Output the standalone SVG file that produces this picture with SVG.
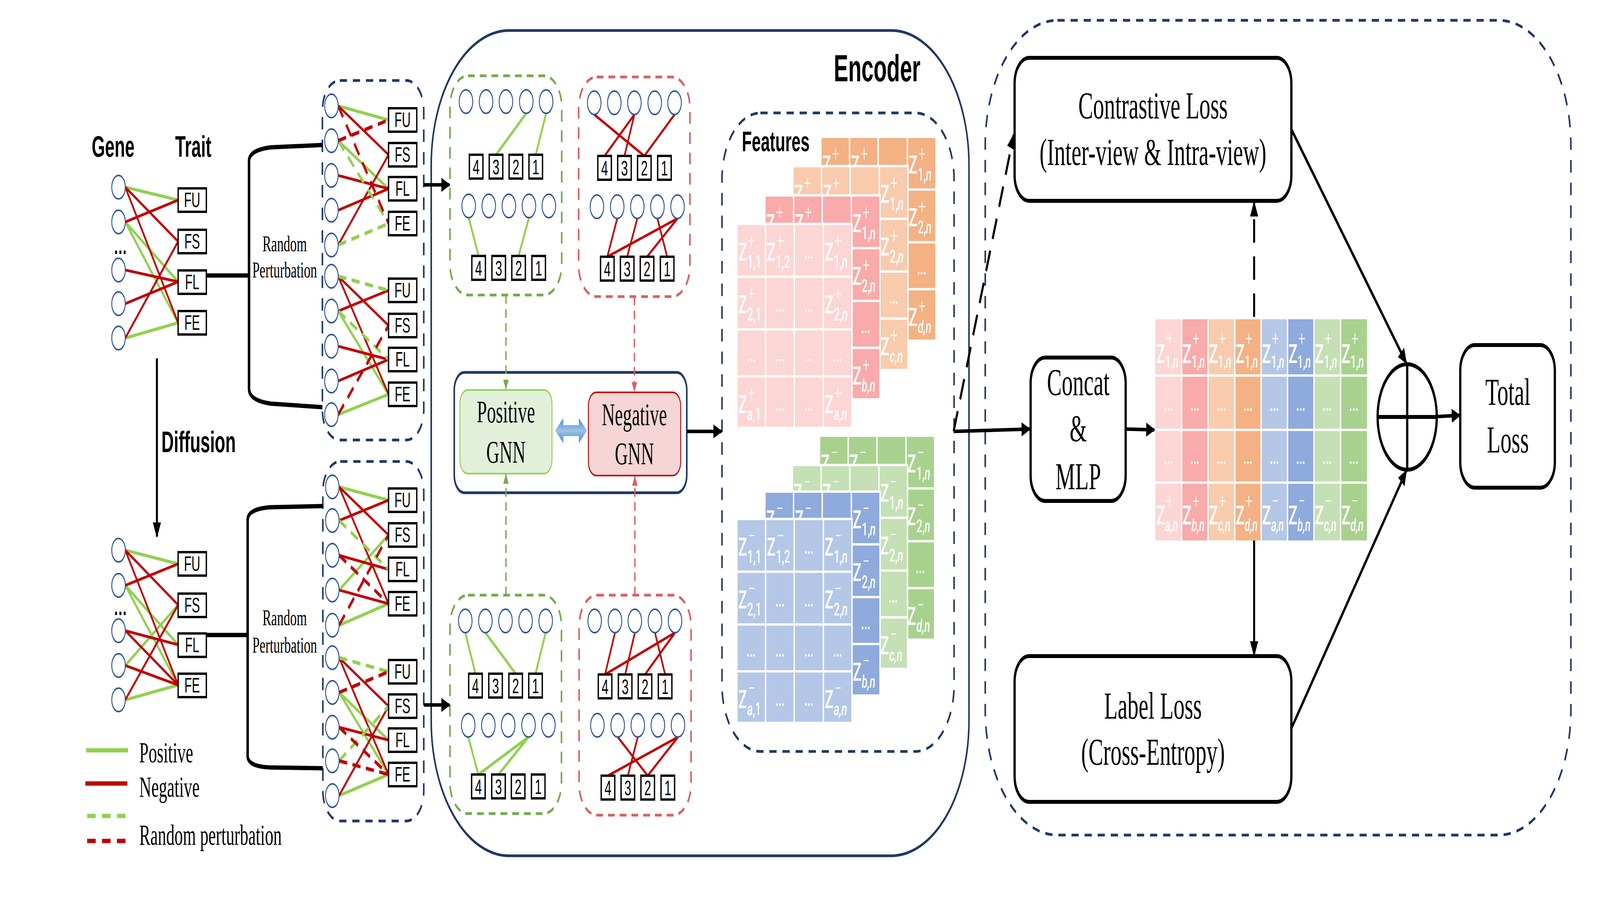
<svg xmlns="http://www.w3.org/2000/svg" xmlns:xlink="http://www.w3.org/1999/xlink" width="7087" height="2362" viewBox="0 0 7087 2362" preserveAspectRatio="none">
<style>
svg{width:100vw;height:100vh;display:block}
.nv{fill:none;stroke:#1F3864;stroke-width:7}
.nvd{fill:none;stroke:#1F3864;stroke-width:7;stroke-dasharray:32 26}
.gdb{fill:none;stroke:#70AD47;stroke-width:7;stroke-dasharray:30 22}
.rdb{fill:none;stroke:#DB5F5F;stroke-width:7;stroke-dasharray:30 22}
.c{fill:#fff;stroke:#2F5597;stroke-width:4}
.pg{stroke:#92D050;stroke-width:8;fill:none}
.pr{stroke:#C00000;stroke-width:7;fill:none}
.pgd{stroke:#92D050;stroke-width:9;stroke-dasharray:36 24;fill:none}
.prd{stroke:#C00000;stroke-width:9;stroke-dasharray:36 24;fill:none}
.bx{fill:#fff;stroke:#000;stroke-width:6}
.tx{font-family:"Liberation Sans Narrow","Liberation Sans",Arial,sans-serif;font-size:54px;text-anchor:middle}
.num{font-family:"Liberation Sans",Arial,sans-serif;font-size:54px;text-anchor:middle}
.bold{font-family:"Liberation Sans",Arial,sans-serif;font-weight:bold}
.serif{font-family:"Liberation Serif","Times New Roman",serif}
.mid{text-anchor:middle}
.blk{fill:none;stroke:#000;stroke-width:10}
.box{fill:#fff;stroke:#000;stroke-width:10}
.zl{font-family:Roboto,"Liberation Sans",sans-serif;font-size:64px;font-weight:500;fill:#fff}
.zc{font-family:Roboto,"Liberation Sans",sans-serif;font-size:66px;font-weight:500;fill:#fff}
.sp{font-size:54px;font-weight:300}
.sb{font-size:46px}
.sc{font-size:44px}
.it{font-style:italic}
.dots{font-family:Roboto,"Liberation Sans",sans-serif;font-size:64px;fill:#fff;text-anchor:middle}
.wg{stroke:#fff;stroke-width:6;fill:none}
.arr{stroke:#000;stroke-width:9;fill:none}
</style>
<defs>
<marker id="ah" viewBox="0 0 40 36" refX="36" refY="18" markerWidth="40" markerHeight="36" markerUnits="userSpaceOnUse" orient="auto"><path d="M0,0 L40,18 L0,36 z" fill="#000"/></marker>
<marker id="ahg" viewBox="0 0 26 24" refX="24" refY="12" markerWidth="26" markerHeight="24" markerUnits="userSpaceOnUse" orient="auto"><path d="M0,0 L26,12 L0,24 z" fill="#70AD47"/></marker>
<marker id="ahr" viewBox="0 0 26 24" refX="24" refY="12" markerWidth="26" markerHeight="24" markerUnits="userSpaceOnUse" orient="auto"><path d="M0,0 L26,12 L0,24 z" fill="#DB5F5F"/></marker>
<linearGradient id="bl" x1="0" y1="0" x2="0" y2="1"><stop offset="0" stop-color="#4A86CF"/><stop offset="0.5" stop-color="#9DC3E6"/><stop offset="1" stop-color="#4A86CF"/></linearGradient>
<g id="grid"><path class="wg" d="M127 0V522M254 0V522M383 0V522M0 135H510M0 270H510M0 390H510"/><rect class="wg" x="0" y="0" width="510" height="522"/></g>
<clipPath id="cp4"><rect x="3636" y="300" width="260" height="125"/></clipPath>
<clipPath id="cp3"><rect x="3512" y="375" width="260" height="125"/></clipPath>
<clipPath id="cp2"><rect x="3388" y="450" width="260" height="123"/></clipPath>
<clipPath id="cn4"><rect x="3630" y="1065" width="260" height="125"/></clipPath>
<clipPath id="cn3"><rect x="3510" y="1140" width="260" height="118"/></clipPath>
<clipPath id="cn2"><rect x="3388" y="1208" width="260" height="120"/></clipPath>
</defs>
<rect width="7087" height="2362" fill="#fff"/>

<g id="labels-gene-trait">
<text class="bold" x="406" y="401" font-size="76">Gene</text>
<text class="bold" x="776" y="401" font-size="76">Trait</text>
<text class="bold" x="715" y="1157" font-size="76">Diffusion</text>
</g>

<g id="graph-original">
<path class="pg" d="M555 479L789 512M555 568L789 721M555 568L789 826M555 865L789 826"/>
<path class="pr" d="M555 479L789 618M555 479L789 826M555 568L789 512M555 691L789 721M555 777L789 721M555 865L789 618"/>
<circle class="c" cx="525" cy="479" r="30"/><circle class="c" cx="525" cy="568" r="30"/><circle class="c" cx="525" cy="691" r="30"/><circle class="c" cx="525" cy="777" r="30"/><circle class="c" cx="525" cy="865" r="30"/>
<text class="bold mid" x="533" y="650" font-size="60">…</text>
<rect class="bx" x="789" y="482" width="125" height="60"/><rect class="bx" x="789" y="588" width="125" height="60"/><rect class="bx" x="789" y="692" width="125" height="60"/><rect class="bx" x="789" y="796" width="125" height="60"/>
<text class="tx" x="851" y="530">FU</text><text class="tx" x="851" y="636">FS</text><text class="tx" x="851" y="740">FL</text><text class="tx" x="851" y="844">FE</text>
</g>

<g id="graph-diffused">
<path class="pg" d="M555 1408L789 1443M555 1498L789 1650M555 1498L789 1753M555 1703L789 1548M555 1791L789 1753"/>
<path class="pr" d="M555 1408L789 1548M555 1408L789 1753M555 1498L789 1443M555 1614L789 1650M555 1614L789 1753M555 1703L789 1753M555 1791L789 1548"/>
<circle class="c" cx="525" cy="1408" r="30"/><circle class="c" cx="525" cy="1498" r="30"/><circle class="c" cx="525" cy="1614" r="30"/><circle class="c" cx="525" cy="1703" r="30"/><circle class="c" cx="525" cy="1791" r="30"/>
<text class="bold mid" x="533" y="1574" font-size="60">…</text>
<rect class="bx" x="789" y="1413" width="125" height="60"/><rect class="bx" x="789" y="1519" width="125" height="60"/><rect class="bx" x="789" y="1621" width="125" height="60"/><rect class="bx" x="789" y="1724" width="125" height="60"/>
<text class="tx" x="851" y="1461">FU</text><text class="tx" x="851" y="1567">FS</text><text class="tx" x="851" y="1669">FL</text><text class="tx" x="851" y="1772">FE</text>
</g>

<g id="legend">
<line x1="382" y1="1920" x2="567" y2="1920" stroke="#92D050" stroke-width="11"/>
<line x1="378" y1="2005" x2="564" y2="2005" stroke="#C00000" stroke-width="11"/>
<line x1="386" y1="2088" x2="560" y2="2088" stroke="#92D050" stroke-width="11" stroke-dasharray="38 28"/>
<line x1="386" y1="2152" x2="560" y2="2152" stroke="#C00000" stroke-width="11" stroke-dasharray="38 28"/>
<text class="serif" x="617" y="1951" font-size="74">Positive</text>
<text class="serif" x="617" y="2039" font-size="74">Negative</text>
<text class="serif" x="617" y="2162" font-size="74">Random perturbation</text>
</g>

<g id="perturb-text">
<text class="serif mid" x="1261" y="643" font-size="58">Random</text>
<text class="serif mid" x="1261" y="710" font-size="58">Perturbation</text>
<text class="serif mid" x="1261" y="1600" font-size="58">Random</text>
<text class="serif mid" x="1261" y="1670" font-size="58">Perturbation</text>
</g>

<g id="perturbed-views-1">
<rect class="nvd" x="1428" y="206" width="449" height="920" rx="77"/>
<path class="pg" d="M1498 271L1721 307M1498 360L1721 483M1498 796L1721 1009M1498 1061L1721 1009"/>
<path class="pr" d="M1498 271L1721 396M1498 449L1721 483M1498 538L1721 483M1498 627L1721 396M1498 707L1721 833M1498 707L1721 1009M1498 796L1721 743M1498 886L1721 920M1498 975L1721 920"/>
<path class="pgd" d="M1498 360L1721 572M1498 627L1721 572M1498 707L1721 743M1498 796L1721 920"/>
<path class="prd" d="M1498 360L1721 307M1498 271L1721 572M1498 1061L1721 833"/>
<circle class="c" cx="1468" cy="271" r="30"/><circle class="c" cx="1468" cy="360" r="30"/><circle class="c" cx="1468" cy="449" r="30"/><circle class="c" cx="1468" cy="538" r="30"/><circle class="c" cx="1468" cy="627" r="30"/>
<circle class="c" cx="1468" cy="707" r="30"/><circle class="c" cx="1468" cy="796" r="30"/><circle class="c" cx="1468" cy="886" r="30"/><circle class="c" cx="1468" cy="975" r="30"/><circle class="c" cx="1468" cy="1061" r="30"/>
<rect class="bx" x="1721" y="277" width="125" height="60"/><rect class="bx" x="1721" y="366" width="125" height="60"/><rect class="bx" x="1721" y="453" width="125" height="60"/><rect class="bx" x="1721" y="542" width="125" height="60"/>
<rect class="bx" x="1721" y="713" width="125" height="60"/><rect class="bx" x="1721" y="803" width="125" height="60"/><rect class="bx" x="1721" y="890" width="125" height="60"/><rect class="bx" x="1721" y="979" width="125" height="60"/>
<text class="tx" x="1783" y="325">FU</text><text class="tx" x="1783" y="414">FS</text><text class="tx" x="1783" y="501">FL</text><text class="tx" x="1783" y="590">FE</text>
<text class="tx" x="1783" y="761">FU</text><text class="tx" x="1783" y="851">FS</text><text class="tx" x="1783" y="938">FL</text><text class="tx" x="1783" y="1027">FE</text>
</g>

<g id="perturbed-views-2">
<rect class="nvd" x="1430" y="1181" width="447" height="920" rx="77"/>
<path class="pg" d="M1502 1246L1721 1280M1502 1510L1721 1369M1502 1600L1721 1545M1502 1772L1721 1894M1502 1772L1721 1982M1502 2036L1721 1982"/>
<path class="pr" d="M1502 1246L1721 1369M1502 1246L1721 1545M1502 1332L1721 1280M1502 1421L1721 1457M1502 1510L1721 1545M1502 1683L1721 1807M1502 1683L1721 1982M1502 1861L1721 1894M1502 2036L1721 1807"/>
<path class="pgd" d="M1502 1332L1721 1457M1502 1683L1721 1719M1502 1947L1721 1807"/>
<path class="prd" d="M1502 1421L1721 1545M1502 1600L1721 1369M1502 1772L1721 1719M1502 1861L1721 1982M1502 1947L1721 1982"/>
<circle class="c" cx="1472" cy="1246" r="30"/><circle class="c" cx="1472" cy="1332" r="30"/><circle class="c" cx="1472" cy="1421" r="30"/><circle class="c" cx="1472" cy="1510" r="30"/><circle class="c" cx="1472" cy="1600" r="30"/>
<circle class="c" cx="1472" cy="1683" r="30"/><circle class="c" cx="1472" cy="1772" r="30"/><circle class="c" cx="1472" cy="1861" r="30"/><circle class="c" cx="1472" cy="1947" r="30"/><circle class="c" cx="1472" cy="2036" r="30"/>
<rect class="bx" x="1721" y="1250" width="125" height="60"/><rect class="bx" x="1721" y="1339" width="125" height="60"/><rect class="bx" x="1721" y="1427" width="125" height="60"/><rect class="bx" x="1721" y="1515" width="125" height="60"/>
<rect class="bx" x="1721" y="1689" width="125" height="60"/><rect class="bx" x="1721" y="1777" width="125" height="60"/><rect class="bx" x="1721" y="1864" width="125" height="60"/><rect class="bx" x="1721" y="1952" width="125" height="60"/>
<text class="tx" x="1783" y="1298">FU</text><text class="tx" x="1783" y="1387">FS</text><text class="tx" x="1783" y="1475">FL</text><text class="tx" x="1783" y="1563">FE</text>
<text class="tx" x="1783" y="1737">FU</text><text class="tx" x="1783" y="1825">FS</text><text class="tx" x="1783" y="1912">FL</text><text class="tx" x="1783" y="2000">FE</text>
</g>

<g id="encoder">
<rect class="nv" x="1910" y="78" width="2382" height="2112" rx="345"/>
<text class="bold" x="3693" y="208" font-size="96">Encoder</text>
</g>

<g id="pos-view-1">
<rect class="gdb" x="1993" y="194" width="495" height="561" rx="80"/>
<path class="pg" d="M2331 290L2197 396M2419 290L2373 396M2076 557L2120 655M2343 557L2297 655"/>
<circle class="c" cx="2064" cy="260" r="30"/><circle class="c" cx="2153" cy="260" r="30"/><circle class="c" cx="2241" cy="260" r="30"/><circle class="c" cx="2331" cy="260" r="30"/><circle class="c" cx="2419" cy="260" r="30"/>
<rect class="bx" x="2079" y="396" width="60" height="61"/><rect class="bx" x="2167" y="396" width="60" height="61"/><rect class="bx" x="2255" y="396" width="60" height="61"/><rect class="bx" x="2343" y="396" width="60" height="61"/>
<text class="num" x="2109" y="446">4</text><text class="num" x="2197" y="446">3</text><text class="num" x="2285" y="446">2</text><text class="num" x="2373" y="446">1</text>
<circle class="c" cx="2076" cy="527" r="30"/><circle class="c" cx="2165" cy="527" r="30"/><circle class="c" cx="2254" cy="527" r="30"/><circle class="c" cx="2343" cy="527" r="30"/><circle class="c" cx="2431" cy="527" r="30"/>
<rect class="bx" x="2090" y="655" width="60" height="61"/><rect class="bx" x="2179" y="655" width="60" height="61"/><rect class="bx" x="2267" y="655" width="60" height="61"/><rect class="bx" x="2356" y="655" width="60" height="61"/>
<text class="num" x="2120" y="705">4</text><text class="num" x="2209" y="705">3</text><text class="num" x="2297" y="705">2</text><text class="num" x="2386" y="705">1</text>
</g>

<g id="neg-view-1">
<rect class="rdb" x="2563" y="197" width="493" height="562" rx="80"/>
<path class="pr" d="M2632 293L2854 399M2810 293L2678 399M2810 293L2766 399M2988 293L2854 399M2734 559L2690 657M2823 559L2778 657M3001 559L2690 657M3001 559L2866 657M2912 559L2955 657"/>
<circle class="c" cx="2632" cy="263" r="30"/><circle class="c" cx="2721" cy="263" r="30"/><circle class="c" cx="2810" cy="263" r="30"/><circle class="c" cx="2900" cy="263" r="30"/><circle class="c" cx="2988" cy="263" r="30"/>
<rect class="bx" x="2648" y="399" width="60" height="61"/><rect class="bx" x="2736" y="399" width="60" height="61"/><rect class="bx" x="2824" y="399" width="60" height="61"/><rect class="bx" x="2913" y="399" width="60" height="61"/>
<text class="num" x="2678" y="449">4</text><text class="num" x="2766" y="449">3</text><text class="num" x="2854" y="449">2</text><text class="num" x="2943" y="449">1</text>
<circle class="c" cx="2644" cy="529" r="30"/><circle class="c" cx="2734" cy="529" r="30"/><circle class="c" cx="2823" cy="529" r="30"/><circle class="c" cx="2912" cy="529" r="30"/><circle class="c" cx="3001" cy="529" r="30"/>
<rect class="bx" x="2660" y="657" width="60" height="61"/><rect class="bx" x="2748" y="657" width="60" height="61"/><rect class="bx" x="2836" y="657" width="60" height="61"/><rect class="bx" x="2925" y="657" width="60" height="61"/>
<text class="num" x="2690" y="707">4</text><text class="num" x="2778" y="707">3</text><text class="num" x="2866" y="707">2</text><text class="num" x="2955" y="707">1</text>
</g>

<g id="pos-view-2">
<rect class="gdb" x="1993" y="1523" width="494" height="559" rx="80"/>
<path class="pg" d="M2061 1619L2106 1724M2150 1619L2284 1724M2417 1619L2372 1724M2074 1886L2119 1982M2341 1886L2119 1982M2341 1886L2208 1982"/>
<circle class="c" cx="2061" cy="1589" r="30"/><circle class="c" cx="2150" cy="1589" r="30"/><circle class="c" cx="2239" cy="1589" r="30"/><circle class="c" cx="2328" cy="1589" r="30"/><circle class="c" cx="2417" cy="1589" r="30"/>
<rect class="bx" x="2076" y="1724" width="60" height="61"/><rect class="bx" x="2165" y="1724" width="60" height="61"/><rect class="bx" x="2254" y="1724" width="60" height="61"/><rect class="bx" x="2342" y="1724" width="60" height="61"/>
<text class="num" x="2106" y="1774">4</text><text class="num" x="2195" y="1774">3</text><text class="num" x="2284" y="1774">2</text><text class="num" x="2372" y="1774">1</text>
<circle class="c" cx="2074" cy="1856" r="30"/><circle class="c" cx="2163" cy="1856" r="30"/><circle class="c" cx="2251" cy="1856" r="30"/><circle class="c" cx="2341" cy="1856" r="30"/><circle class="c" cx="2429" cy="1856" r="30"/>
<rect class="bx" x="2089" y="1982" width="60" height="61"/><rect class="bx" x="2178" y="1982" width="60" height="61"/><rect class="bx" x="2265" y="1982" width="60" height="61"/><rect class="bx" x="2354" y="1982" width="60" height="61"/>
<text class="num" x="2119" y="2032">4</text><text class="num" x="2208" y="2032">3</text><text class="num" x="2295" y="2032">2</text><text class="num" x="2384" y="2032">1</text>
</g>

<g id="neg-view-2">
<rect class="rdb" x="2565" y="1523" width="496" height="563" rx="80"/>
<path class="pr" d="M2724 1619L2680 1726M2812 1619L2769 1726M2990 1619L2680 1726M2990 1619L2857 1726M2901 1619L2946 1726M2736 1886L2869 1985M2825 1886L2781 1985M3003 1886L2693 1985M3003 1886L2869 1985"/>
<circle class="c" cx="2634" cy="1589" r="30"/><circle class="c" cx="2724" cy="1589" r="30"/><circle class="c" cx="2812" cy="1589" r="30"/><circle class="c" cx="2901" cy="1589" r="30"/><circle class="c" cx="2990" cy="1589" r="30"/>
<rect class="bx" x="2650" y="1726" width="60" height="61"/><rect class="bx" x="2739" y="1726" width="60" height="61"/><rect class="bx" x="2827" y="1726" width="60" height="61"/><rect class="bx" x="2916" y="1726" width="60" height="61"/>
<text class="num" x="2680" y="1776">4</text><text class="num" x="2769" y="1776">3</text><text class="num" x="2857" y="1776">2</text><text class="num" x="2946" y="1776">1</text>
<circle class="c" cx="2646" cy="1856" r="30"/><circle class="c" cx="2736" cy="1856" r="30"/><circle class="c" cx="2825" cy="1856" r="30"/><circle class="c" cx="2914" cy="1856" r="30"/><circle class="c" cx="3003" cy="1856" r="30"/>
<rect class="bx" x="2663" y="1985" width="60" height="61"/><rect class="bx" x="2751" y="1985" width="60" height="61"/><rect class="bx" x="2839" y="1985" width="60" height="61"/><rect class="bx" x="2928" y="1985" width="60" height="61"/>
<text class="num" x="2693" y="2035">4</text><text class="num" x="2781" y="2035">3</text><text class="num" x="2869" y="2035">2</text><text class="num" x="2958" y="2035">1</text>
</g>

<g id="gnn">
<rect class="nv" x="2012" y="953" width="1030" height="308" rx="45"/>
<rect x="2037" y="998" width="408" height="214" rx="35" fill="#E2F0D9" stroke="#92D050" stroke-width="4"/>
<rect x="2606" y="1004" width="409" height="213" rx="35" fill="#F5D5D5" stroke="#C00000" stroke-width="4"/>
<text class="serif mid" x="2241" y="1081" font-size="80">Positive</text>
<text class="serif mid" x="2241" y="1184" font-size="80">GNN</text>
<text class="serif mid" x="2810" y="1088" font-size="80">Negative</text>
<text class="serif mid" x="2810" y="1188" font-size="80">GNN</text>
</g>

<g id="features">
<rect class="nvd" x="3198" y="289" width="1028" height="1634" rx="170"/>
<text class="bold" x="3286" y="387" font-size="72">Features</text>

<rect x="3636" y="350" width="510" height="522" fill="#F4B183"/><use xlink:href="#grid" x="3636" y="350"/>
<g clip-path="url(#cp4)">
<text class="zl" transform="translate(3636,350)" x="6" y="94">Z<tspan class="sp" x="50" y="62">+</tspan></text>
<text class="zl" transform="translate(3763,350)" x="6" y="94">Z<tspan class="sp" x="50" y="62">+</tspan></text>
</g>
<text class="zl" transform="translate(4019,350)" x="6" y="94">Z<tspan class="sp" x="50" y="62">+</tspan><tspan class="sb" x="46" y="112">1,<tspan class="it">n</tspan></tspan></text>
<text class="zl" transform="translate(4019,485)" x="6" y="94">Z<tspan class="sp" x="50" y="62">+</tspan><tspan class="sb" x="46" y="112">2,<tspan class="it">n</tspan></tspan></text>
<text class="dots" x="4082" y="702">…</text>
<text class="zl" transform="translate(4019,740)" x="6" y="94">Z<tspan class="sp" x="50" y="62">+</tspan><tspan class="sb it" x="46" y="112">d,n</tspan></text>

<rect x="3512" y="425" width="510" height="522" fill="#F8CBAD"/><use xlink:href="#grid" x="3512" y="425"/>
<g clip-path="url(#cp3)">
<text class="zl" transform="translate(3512,425)" x="6" y="94">Z<tspan class="sp" x="50" y="62">+</tspan></text>
<text class="zl" transform="translate(3639,425)" x="6" y="94">Z<tspan class="sp" x="50" y="62">+</tspan></text>
</g>
<text class="zl" transform="translate(3895,425)" x="6" y="94">Z<tspan class="sp" x="50" y="62">+</tspan><tspan class="sb" x="46" y="112">1,<tspan class="it">n</tspan></tspan></text>
<text class="zl" transform="translate(3895,560)" x="6" y="94">Z<tspan class="sp" x="50" y="62">+</tspan><tspan class="sb" x="46" y="112">2,<tspan class="it">n</tspan></tspan></text>
<text class="dots" x="3958" y="777">…</text>
<text class="zl" transform="translate(3895,815)" x="6" y="94">Z<tspan class="sp" x="50" y="62">+</tspan><tspan class="sb it" x="46" y="112">c,n</tspan></text>

<rect x="3388" y="500" width="510" height="522" fill="#F9AAAA"/><use xlink:href="#grid" x="3388" y="500"/>
<g clip-path="url(#cp2)">
<text class="zl" transform="translate(3388,500)" x="6" y="94">Z<tspan class="sp" x="50" y="62">+</tspan></text>
<text class="zl" transform="translate(3515,500)" x="6" y="94">Z<tspan class="sp" x="50" y="62">+</tspan></text>
</g>
<text class="zl" transform="translate(3771,500)" x="6" y="94">Z<tspan class="sp" x="50" y="62">+</tspan><tspan class="sb" x="46" y="112">1,<tspan class="it">n</tspan></tspan></text>
<text class="zl" transform="translate(3771,635)" x="6" y="94">Z<tspan class="sp" x="50" y="62">+</tspan><tspan class="sb" x="46" y="112">2,<tspan class="it">n</tspan></tspan></text>
<text class="dots" x="3834" y="852">…</text>
<text class="zl" transform="translate(3771,890)" x="6" y="94">Z<tspan class="sp" x="50" y="62">+</tspan><tspan class="sb it" x="46" y="112">b,n</tspan></text>

<rect x="3264" y="573" width="510" height="522" fill="#FCD5D5"/><use xlink:href="#grid" x="3264" y="573"/>
<text class="zl" transform="translate(3264,573)" x="6" y="94">Z<tspan class="sp" x="50" y="62">+</tspan><tspan class="sb" x="46" y="112">1,1</tspan></text>
<text class="zl" transform="translate(3391,573)" x="6" y="94">Z<tspan class="sp" x="50" y="62">+</tspan><tspan class="sb" x="46" y="112">1,2</tspan></text>
<text class="dots" x="3582" y="662">…</text>
<text class="zl" transform="translate(3647,573)" x="6" y="94">Z<tspan class="sp" x="50" y="62">+</tspan><tspan class="sb" x="46" y="112">1,<tspan class="it">n</tspan></tspan></text>
<text class="zl" transform="translate(3264,708)" x="6" y="94">Z<tspan class="sp" x="50" y="62">+</tspan><tspan class="sb" x="46" y="112">2,1</tspan></text>
<text class="dots" x="3454" y="797">…</text><text class="dots" x="3582" y="797">…</text>
<text class="zl" transform="translate(3647,708)" x="6" y="94">Z<tspan class="sp" x="50" y="62">+</tspan><tspan class="sb" x="46" y="112">2,<tspan class="it">n</tspan></tspan></text>
<text class="dots" x="3327" y="925">…</text><text class="dots" x="3454" y="925">…</text><text class="dots" x="3582" y="925">…</text><text class="dots" x="3710" y="925">…</text>
<text class="zl" transform="translate(3264,963)" x="6" y="94">Z<tspan class="sp" x="50" y="62">+</tspan><tspan class="sb" x="46" y="112"><tspan class="it">a</tspan>,1</tspan></text>
<text class="dots" x="3454" y="1051">…</text><text class="dots" x="3582" y="1051">…</text>
<text class="zl" transform="translate(3647,963)" x="6" y="94">Z<tspan class="sp" x="50" y="62">+</tspan><tspan class="sb it" x="46" y="112">a,n</tspan></text>

<rect x="3630" y="1115" width="510" height="522" fill="#A9D18E"/><use xlink:href="#grid" x="3630" y="1115"/>
<g clip-path="url(#cn4)">
<text class="zl" transform="translate(3630,1115)" x="6" y="94">Z<tspan class="sp" x="50" y="62">−</tspan></text>
<text class="zl" transform="translate(3757,1115)" x="6" y="94">Z<tspan class="sp" x="50" y="62">−</tspan></text>
</g>
<text class="zl" transform="translate(4013,1115)" x="6" y="94">Z<tspan class="sp" x="50" y="62">−</tspan><tspan class="sb" x="46" y="112">1,<tspan class="it">n</tspan></tspan></text>
<text class="zl" transform="translate(4013,1250)" x="6" y="94">Z<tspan class="sp" x="50" y="62">−</tspan><tspan class="sb" x="46" y="112">2,<tspan class="it">n</tspan></tspan></text>
<text class="dots" x="4076" y="1467">…</text>
<text class="zl" transform="translate(4013,1505)" x="6" y="94">Z<tspan class="sp" x="50" y="62">−</tspan><tspan class="sb it" x="46" y="112">d,n</tspan></text>

<rect x="3510" y="1190" width="510" height="522" fill="#C5E0B4"/><use xlink:href="#grid" x="3510" y="1190"/>
<g clip-path="url(#cn3)">
<text class="zl" transform="translate(3510,1190)" x="6" y="94">Z<tspan class="sp" x="50" y="62">−</tspan></text>
<text class="zl" transform="translate(3637,1190)" x="6" y="94">Z<tspan class="sp" x="50" y="62">−</tspan></text>
</g>
<text class="zl" transform="translate(3893,1190)" x="6" y="94">Z<tspan class="sp" x="50" y="62">−</tspan><tspan class="sb" x="46" y="112">1,<tspan class="it">n</tspan></tspan></text>
<text class="zl" transform="translate(3893,1325)" x="6" y="94">Z<tspan class="sp" x="50" y="62">−</tspan><tspan class="sb" x="46" y="112">2,<tspan class="it">n</tspan></tspan></text>
<text class="dots" x="3956" y="1542">…</text>
<text class="zl" transform="translate(3893,1580)" x="6" y="94">Z<tspan class="sp" x="50" y="62">−</tspan><tspan class="sb it" x="46" y="112">c,n</tspan></text>

<rect x="3388" y="1258" width="510" height="522" fill="#8FAADC"/><use xlink:href="#grid" x="3388" y="1258"/>
<g clip-path="url(#cn2)">
<text class="zl" transform="translate(3388,1258)" x="6" y="94">Z<tspan class="sp" x="50" y="62">−</tspan></text>
<text class="zl" transform="translate(3515,1258)" x="6" y="94">Z<tspan class="sp" x="50" y="62">−</tspan></text>
</g>
<text class="zl" transform="translate(3771,1258)" x="6" y="94">Z<tspan class="sp" x="50" y="62">−</tspan><tspan class="sb" x="46" y="112">1,<tspan class="it">n</tspan></tspan></text>
<text class="zl" transform="translate(3771,1393)" x="6" y="94">Z<tspan class="sp" x="50" y="62">−</tspan><tspan class="sb" x="46" y="112">2,<tspan class="it">n</tspan></tspan></text>
<text class="dots" x="3834" y="1610">…</text>
<text class="zl" transform="translate(3771,1648)" x="6" y="94">Z<tspan class="sp" x="50" y="62">−</tspan><tspan class="sb it" x="46" y="112">b,n</tspan></text>

<rect x="3264" y="1328" width="510" height="522" fill="#B4C7E7"/><use xlink:href="#grid" x="3264" y="1328"/>
<text class="zl" transform="translate(3264,1328)" x="6" y="94">Z<tspan class="sp" x="50" y="62">−</tspan><tspan class="sb" x="46" y="112">1,1</tspan></text>
<text class="zl" transform="translate(3391,1328)" x="6" y="94">Z<tspan class="sp" x="50" y="62">−</tspan><tspan class="sb" x="46" y="112">1,2</tspan></text>
<text class="dots" x="3582" y="1417">…</text>
<text class="zl" transform="translate(3647,1328)" x="6" y="94">Z<tspan class="sp" x="50" y="62">−</tspan><tspan class="sb" x="46" y="112">1,<tspan class="it">n</tspan></tspan></text>
<text class="zl" transform="translate(3264,1463)" x="6" y="94">Z<tspan class="sp" x="50" y="62">−</tspan><tspan class="sb" x="46" y="112">2,1</tspan></text>
<text class="dots" x="3454" y="1552">…</text><text class="dots" x="3582" y="1552">…</text>
<text class="zl" transform="translate(3647,1463)" x="6" y="94">Z<tspan class="sp" x="50" y="62">−</tspan><tspan class="sb" x="46" y="112">2,<tspan class="it">n</tspan></tspan></text>
<text class="dots" x="3327" y="1680">…</text><text class="dots" x="3454" y="1680">…</text><text class="dots" x="3582" y="1680">…</text><text class="dots" x="3710" y="1680">…</text>
<text class="zl" transform="translate(3264,1718)" x="6" y="94">Z<tspan class="sp" x="50" y="62">−</tspan><tspan class="sb" x="46" y="112"><tspan class="it">a</tspan>,1</tspan></text>
<text class="dots" x="3454" y="1806">…</text><text class="dots" x="3582" y="1806">…</text>
<text class="zl" transform="translate(3647,1718)" x="6" y="94">Z<tspan class="sp" x="50" y="62">−</tspan><tspan class="sb it" x="46" y="112">a,n</tspan></text>
</g>

<g id="loss-region">
<rect class="nvd" x="4364" y="52" width="2594" height="2085" rx="320"/>
</g>
<g id="contrastive-loss">
<rect class="box" x="4494" y="148" width="1226" height="366" rx="65"/>
<text class="serif mid" x="5107" y="303" font-size="98">Contrastive Loss</text>
<text class="serif mid" x="5107" y="422" font-size="98">(Inter-view &amp; Intra-view)</text>
</g>
<g id="label-loss">
<rect class="box" x="4494" y="1679" width="1226" height="373" rx="65"/>
<text class="serif mid" x="5107" y="1839" font-size="98">Label Loss</text>
<text class="serif mid" x="5107" y="1957" font-size="98">(Cross-Entropy)</text>
</g>
<g id="concat-mlp">
<rect class="box" x="4565" y="915" width="421" height="367" rx="65"/>
<text class="serif mid" x="4776" y="1011" font-size="98">Concat</text>
<text class="serif mid" x="4776" y="1129" font-size="98">&amp;</text>
<text class="serif mid" x="4776" y="1252" font-size="98">MLP</text>
</g>
<g id="total-loss">
<rect class="box" x="6468" y="883" width="419" height="365" rx="65"/>
<text class="serif mid" x="6679" y="1036" font-size="98">Total</text>
<text class="serif mid" x="6679" y="1158" font-size="98">Loss</text>
</g>
<g id="sum">
<ellipse class="box" cx="6233" cy="1067" rx="131" ry="135"/>
<path class="blk" d="M6102 1067H6364M6233 932V1202"/>
</g>

<g id="concat-matrix">
<rect x="5117" y="817" width="117" height="566" fill="#FCD5D5"/>
<rect x="5234" y="817" width="117" height="566" fill="#F9AAAA"/>
<rect x="5351" y="817" width="118" height="566" fill="#F8CBAD"/>
<rect x="5469" y="817" width="117" height="566" fill="#F4B183"/>
<rect x="5586" y="817" width="117" height="566" fill="#B4C7E7"/>
<rect x="5703" y="817" width="117" height="566" fill="#8FAADC"/>
<rect x="5820" y="817" width="118" height="566" fill="#C5E0B4"/>
<rect x="5938" y="817" width="117" height="566" fill="#A9D18E"/>
<path class="wg" d="M5234 817V1383M5351 817V1383M5469 817V1383M5586 817V1383M5703 817V1383M5820 817V1383M5938 817V1383M5117 961H6055M5117 1100H6055M5117 1235H6055"/>
<text class="zc" transform="translate(5117,817)" x="4" y="112">Z<tspan class="sp" x="48" y="68">+</tspan><tspan class="sc" x="44" y="124">1,<tspan class="it">n</tspan></tspan></text>
<text class="zc" transform="translate(5234,817)" x="4" y="112">Z<tspan class="sp" x="48" y="68">+</tspan><tspan class="sc" x="44" y="124">1,<tspan class="it">n</tspan></tspan></text>
<text class="zc" transform="translate(5351,817)" x="4" y="112">Z<tspan class="sp" x="48" y="68">+</tspan><tspan class="sc" x="44" y="124">1,<tspan class="it">n</tspan></tspan></text>
<text class="zc" transform="translate(5469,817)" x="4" y="112">Z<tspan class="sp" x="48" y="68">+</tspan><tspan class="sc" x="44" y="124">1,<tspan class="it">n</tspan></tspan></text>
<text class="zc" transform="translate(5586,817)" x="4" y="112">Z<tspan class="sp" x="48" y="68">+</tspan><tspan class="sc" x="44" y="124">1,<tspan class="it">n</tspan></tspan></text>
<text class="zc" transform="translate(5703,817)" x="4" y="112">Z<tspan class="sp" x="48" y="68">+</tspan><tspan class="sc" x="44" y="124">1,<tspan class="it">n</tspan></tspan></text>
<text class="zc" transform="translate(5820,817)" x="4" y="112">Z<tspan class="sp" x="48" y="68">+</tspan><tspan class="sc" x="44" y="124">1,<tspan class="it">n</tspan></tspan></text>
<text class="zc" transform="translate(5938,817)" x="4" y="112">Z<tspan class="sp" x="48" y="68">+</tspan><tspan class="sc" x="44" y="124">1,<tspan class="it">n</tspan></tspan></text>
<text class="dots" x="5175" y="1051">…</text><text class="dots" x="5292" y="1051">…</text><text class="dots" x="5410" y="1051">…</text><text class="dots" x="5527" y="1051">…</text><text class="dots" x="5644" y="1051">…</text><text class="dots" x="5761" y="1051">…</text><text class="dots" x="5879" y="1051">…</text><text class="dots" x="5996" y="1051">…</text>
<text class="dots" x="5175" y="1187">…</text><text class="dots" x="5292" y="1187">…</text><text class="dots" x="5410" y="1187">…</text><text class="dots" x="5527" y="1187">…</text><text class="dots" x="5644" y="1187">…</text><text class="dots" x="5761" y="1187">…</text><text class="dots" x="5879" y="1187">…</text><text class="dots" x="5996" y="1187">…</text>
<text class="zc" transform="translate(5117,1235)" x="4" y="107">Z<tspan class="sp" x="48" y="66">+</tspan><tspan class="sc it" x="44" y="124">a,n</tspan></text>
<text class="zc" transform="translate(5234,1235)" x="4" y="107">Z<tspan class="sp" x="48" y="66">+</tspan><tspan class="sc it" x="44" y="124">b,n</tspan></text>
<text class="zc" transform="translate(5351,1235)" x="4" y="107">Z<tspan class="sp" x="48" y="66">+</tspan><tspan class="sc it" x="44" y="124">c,n</tspan></text>
<text class="zc" transform="translate(5469,1235)" x="4" y="107">Z<tspan class="sp" x="48" y="66">+</tspan><tspan class="sc it" x="44" y="124">d,n</tspan></text>
<text class="zc" transform="translate(5586,1235)" x="4" y="107">Z<tspan class="sp" x="48" y="66">−</tspan><tspan class="sc it" x="44" y="124">a,n</tspan></text>
<text class="zc" transform="translate(5703,1235)" x="4" y="107">Z<tspan class="sp" x="48" y="66">−</tspan><tspan class="sc it" x="44" y="124">b,n</tspan></text>
<text class="zc" transform="translate(5820,1235)" x="4" y="107">Z<tspan class="sp" x="48" y="66">−</tspan><tspan class="sc it" x="44" y="124">c,n</tspan></text>
<text class="zc" transform="translate(5938,1235)" x="4" y="107">Z<tspan class="sp" x="48" y="66">−</tspan><tspan class="sc it" x="44" y="124">d,n</tspan></text>
</g>

<g id="connectors">
<line class="arr" x1="695" y1="917" x2="695" y2="1373" stroke-width="7" marker-end="url(#ah)"/>
<path d="M914 705H1103M1103 705V412Q1103 384 1200 377L1428 371M1103 705V995Q1103 1025 1200 1033L1428 1042" fill="none" stroke="#000" stroke-width="11"/>
<path d="M914 1625H1097M1097 1625V1330Q1097 1302 1200 1298L1430 1295M1097 1625V1935Q1097 1962 1200 1964L1430 1966" fill="none" stroke="#000" stroke-width="11"/>
<line class="arr" x1="1877" y1="473" x2="1991" y2="473" marker-end="url(#ah)"/>
<line class="arr" x1="1877" y1="1804" x2="1991" y2="1804" marker-end="url(#ah)"/>
<line x1="2241" y1="755" x2="2241" y2="996" stroke="#70AD47" stroke-width="6" stroke-dasharray="22 14" marker-end="url(#ahg)"/>
<line x1="2810" y1="759" x2="2810" y2="1002" stroke="#DB5F5F" stroke-width="6" stroke-dasharray="22 14" marker-end="url(#ahr)"/>
<line x1="2241" y1="1523" x2="2241" y2="1214" stroke="#70AD47" stroke-width="6" stroke-dasharray="22 14" marker-end="url(#ahg)"/>
<line x1="2812" y1="1523" x2="2812" y2="1219" stroke="#DB5F5F" stroke-width="6" stroke-dasharray="22 14" marker-end="url(#ahr)"/>
<polygon points="2459,1102 2495,1070 2495,1088 2564,1088 2564,1070 2600,1102 2564,1134 2564,1116 2495,1116 2495,1134" fill="url(#bl)"/>
<line class="arr" x1="3042" y1="1104" x2="3196" y2="1104" marker-end="url(#ah)"/>
<line class="arr" x1="4224" y1="1104" x2="4561" y2="1098" marker-end="url(#ah)"/>
<line class="arr" x1="4224" y1="1104" x2="4490" y2="345" stroke-width="10" stroke-dasharray="55 32" marker-end="url(#ah)"/>
<line class="arr" x1="4986" y1="1098" x2="5113" y2="1100" marker-end="url(#ah)"/>
<line class="arr" x1="5555" y1="811" x2="5555" y2="518" stroke-width="10" stroke-dasharray="60 35" marker-end="url(#ah)"/>
<line class="arr" x1="5555" y1="1383" x2="5555" y2="1677" marker-end="url(#ah)"/>
<line class="arr" x1="5720" y1="331" x2="6229" y2="929" stroke-width="8" marker-end="url(#ah)"/>
<line class="arr" x1="5720" y1="1864" x2="6229" y2="1205" stroke-width="8" marker-end="url(#ah)"/>
<line class="arr" x1="6364" y1="1066" x2="6466" y2="1063" stroke-width="8" marker-end="url(#ah)"/>
</g>
</svg>
